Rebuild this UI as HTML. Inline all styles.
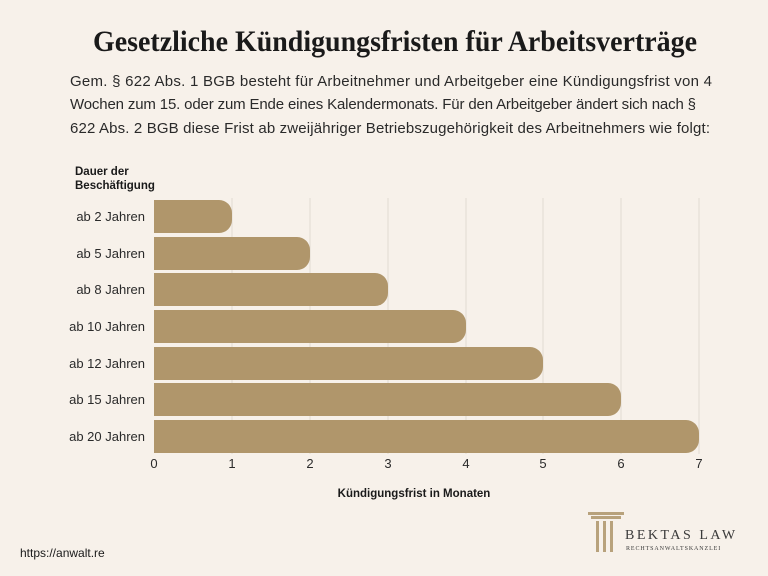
<!DOCTYPE html>
<html><head><meta charset="utf-8"><style>
html,body{margin:0;padding:0;background:#f7f1ea;}
svg{display:block}
</style></head><body>
<svg width="768" height="576" viewBox="0 0 768 576" xmlns="http://www.w3.org/2000/svg">
<rect width="768" height="576" fill="#f7f1ea"/>
<text x="395" y="51" text-anchor="middle" font-family="Liberation Serif, serif" font-weight="bold" font-size="30" fill="#1a1a1a" textLength="604" lengthAdjust="spacingAndGlyphs">Gesetzliche Kündigungsfristen für Arbeitsverträge</text>
<g font-family="Liberation Sans, sans-serif" font-size="15" fill="#2a2a2a">
<text x="70" y="86" textLength="642" lengthAdjust="spacing">Gem. § 622 Abs. 1 BGB besteht für Arbeitnehmer und Arbeitgeber eine Kündigungsfrist von 4</text>
<text x="70" y="109" textLength="626" lengthAdjust="spacing">Wochen zum 15. oder zum Ende eines Kalendermonats. Für den Arbeitgeber ändert sich nach §</text>
<text x="70" y="133" textLength="640" lengthAdjust="spacing">622 Abs. 2 BGB diese Frist ab zweijähriger Betriebszugehörigkeit des Arbeitnehmers wie folgt:</text>
</g>
<g stroke="#e2dbd2" stroke-width="1">
<line x1="232" y1="198" x2="232" y2="454"/><line x1="310" y1="198" x2="310" y2="454"/>
<line x1="388" y1="198" x2="388" y2="454"/><line x1="466" y1="198" x2="466" y2="454"/>
<line x1="543" y1="198" x2="543" y2="454"/><line x1="621" y1="198" x2="621" y2="454"/>
<line x1="699" y1="198" x2="699" y2="454"/>
</g>
<g font-family="Liberation Sans, sans-serif" font-weight="bold" font-size="11.5" fill="#1a1a1a">
<text x="75" y="175">Dauer der</text><text x="75" y="189">Beschäftigung</text>
</g>
<g fill="#b0966b">
<path d="M154 200 H219 A13 13 0 0 1 232 213 V220 A13 13 0 0 1 219 233 H154Z"/>
<path d="M154 237 H297 A13 13 0 0 1 310 250 V257 A13 13 0 0 1 297 270 H154Z"/>
<path d="M154 273 H375 A13 13 0 0 1 388 286 V293 A13 13 0 0 1 375 306 H154Z"/>
<path d="M154 310 H453 A13 13 0 0 1 466 323 V330 A13 13 0 0 1 453 343 H154Z"/>
<path d="M154 347 H530 A13 13 0 0 1 543 360 V367 A13 13 0 0 1 530 380 H154Z"/>
<path d="M154 383 H608 A13 13 0 0 1 621 396 V403 A13 13 0 0 1 608 416 H154Z"/>
<path d="M154 420 H686 A13 13 0 0 1 699 433 V440 A13 13 0 0 1 686 453 H154Z"/>
</g>
<g font-family="Liberation Sans, sans-serif" font-size="13" fill="#2a2a2a" text-anchor="end">
<text x="145" y="221">ab 2 Jahren</text><text x="145" y="258">ab 5 Jahren</text>
<text x="145" y="294">ab 8 Jahren</text><text x="145" y="331">ab 10 Jahren</text>
<text x="145" y="368">ab 12 Jahren</text><text x="145" y="404">ab 15 Jahren</text>
<text x="145" y="441">ab 20 Jahren</text>
</g>
<g font-family="Liberation Sans, sans-serif" font-size="13" fill="#2a2a2a" text-anchor="middle">
<text x="154" y="468">0</text><text x="232" y="468">1</text><text x="310" y="468">2</text>
<text x="388" y="468">3</text><text x="466" y="468">4</text><text x="543" y="468">5</text>
<text x="621" y="468">6</text><text x="699" y="468">7</text>
</g>
<text x="414" y="497" text-anchor="middle" font-family="Liberation Sans, sans-serif" font-weight="bold" font-size="11.5" fill="#1a1a1a">Kündigungsfrist in Monaten</text>
<text x="20" y="557" font-family="Liberation Sans, sans-serif" font-size="12" fill="#1a1a1a">https://anwalt.re</text>
<g fill="#b8a27c">
<rect x="588" y="512" width="36" height="3"/>
<rect x="591" y="516" width="30" height="3"/>
<rect x="596" y="521" width="3" height="31"/><rect x="603" y="521" width="3" height="31"/><rect x="610" y="521" width="3" height="31"/>
</g>
<text x="625" y="539" font-family="Liberation Serif, serif" font-size="14" fill="#3a3a3a" letter-spacing="2.5">BEKTAS LAW</text>
<text x="626" y="550" font-family="Liberation Serif, serif" font-size="6" fill="#3a3a3a" letter-spacing="0.9">RECHTSANWALTSKANZLEI</text>
</svg>
</body></html>
